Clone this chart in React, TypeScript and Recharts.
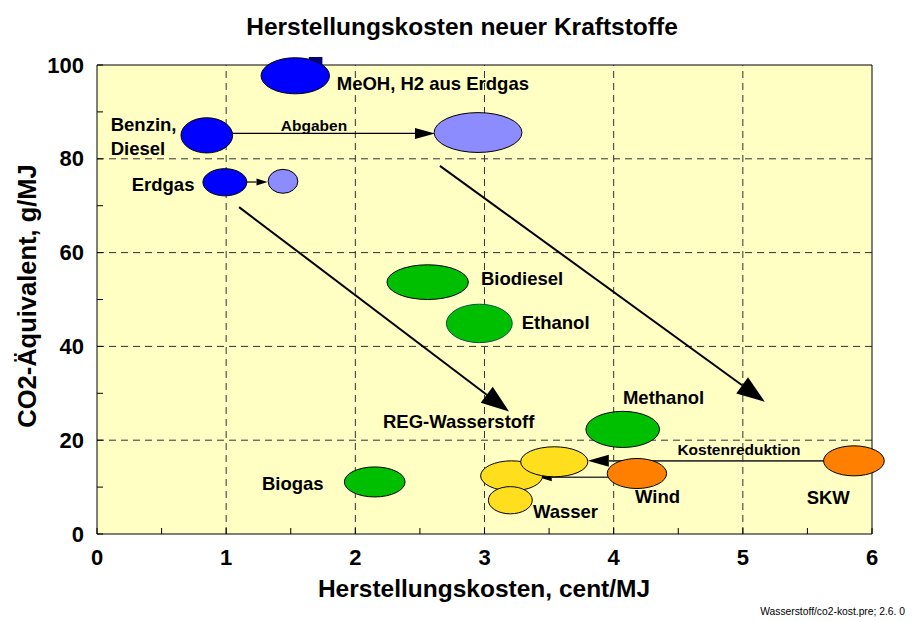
import {
  ScatterChart,
  Scatter,
  XAxis,
  YAxis,
  CartesianGrid,
  ReferenceLine,
  ReferenceArea,
} from 'recharts';

// --- data (cent/MJ, g CO2-Äq./MJ); w/h = spread of each range ---
const xTicks = [0, 0.5, 1, 1.5, 2, 2.5, 3, 3.5, 4, 4.5, 5, 5.5, 6];
const xLabels = [0, 1, 2, 3, 4, 5, 6];
const yTicks = [0, 10, 20, 30, 40, 50, 60, 70, 80, 90, 100];
const yLabels = [0, 20, 40, 60, 80, 100];
const gridX = [1, 2, 3, 4, 5];
const gridY = [20, 40, 60, 80];

const fossil = [
  { name: 'MeOH, H2 aus Erdgas', x: 1.535, y: 97.7, w: 0.53, h: 7.7 },
  { name: 'Benzin, Diesel', x: 0.85, y: 85, w: 0.4, h: 7.5 },
  { name: 'Erdgas', x: 0.99, y: 75, w: 0.34, h: 5.8 },
];
const withTax = [
  { name: 'Benzin, Diesel + Abgaben', x: 2.95, y: 85.6, w: 0.68, h: 8.5 },
  { name: 'Erdgas + Abgaben', x: 1.44, y: 75.2, w: 0.23, h: 5.1 },
];
const biofuels = [
  { name: 'Biodiesel', x: 2.56, y: 53.7, w: 0.63, h: 7.4 },
  { name: 'Ethanol', x: 2.96, y: 44.9, w: 0.51, h: 8.2 },
  { name: 'Methanol', x: 4.07, y: 22.3, w: 0.57, h: 7.7 },
  { name: 'Biogas', x: 2.15, y: 11.1, w: 0.47, h: 6.4 },
];
const regHydrogen = [
  { name: 'Wasser', x: 3.21, y: 12.4, w: 0.48, h: 6.4 },
  { name: 'Wasser (klein)', x: 3.2, y: 7.2, w: 0.34, h: 5.8 },
  { name: 'Wind/SKW reduziert', x: 3.54, y: 15.4, w: 0.52, h: 6.4 },
];
const windSolar = [
  { name: 'Wind', x: 4.18, y: 12.9, w: 0.46, h: 6.4 },
  { name: 'SKW', x: 5.86, y: 15.6, w: 0.47, h: 6.4 },
];

const arrows = [
  { from: [1.05, 85.4], to: [2.617, 85.4], kind: 'thin' },
  { from: [1.159, 75.05], to: [1.32, 75.05], kind: 'tiny' },
  { from: [1.1, 69.7], to: [3.19, 26.1], kind: 'big' },
  { from: [2.655, 78.5], to: [5.17, 28.2], kind: 'big' },
  { from: [5.63, 15.6], to: [3.8, 15.6], kind: 'gray' },
  { from: [3.995, 12.1], to: [3.42, 12.1], kind: 'graySmall' },
];

const labels = [
  { text: 'MeOH, H2 aus Erdgas', x: 1.856, y: 96.1, kind: 'main' },
  { text: 'Benzin,', x: 0.106, y: 87.4, kind: 'main' },
  { text: 'Diesel', x: 0.106, y: 82.1, kind: 'main' },
  { text: 'Erdgas', x: 0.269, y: 74.6, kind: 'main' },
  { text: 'Abgaben', x: 1.68, y: 87.2, kind: 'note' },
  { text: 'Biodiesel', x: 2.973, y: 54.4, kind: 'main' },
  { text: 'Ethanol', x: 3.288, y: 45.05, kind: 'main' },
  { text: 'Methanol', x: 4.072, y: 29.2, kind: 'main' },
  { text: 'REG-Wasserstoff', x: 2.214, y: 23.9, kind: 'main' },
  { text: 'Biogas', x: 1.277, y: 10.7, kind: 'main' },
  { text: 'Kostenreduktion', x: 4.97, y: 18.06, kind: 'note' },
  { text: 'Wind', x: 4.165, y: 8.1, kind: 'main' },
  { text: 'Wasser', x: 3.375, y: 4.75, kind: 'main' },
  { text: 'SKW', x: 5.494, y: 7.7, kind: 'main' },
];

// --- layout ---
const W = 900;
const H = 606;
const margin = { top: 57, right: 36, bottom: 40, left: 29 };
const Y_AXIS_W = 60;
const X_AXIS_H = 40;
const PLOT_W = W - margin.left - margin.right - Y_AXIS_W;
const PLOT_H = H - margin.top - margin.bottom - X_AXIS_H;
const PX_X = PLOT_W / 6;
const PX_Y = PLOT_H / 100;

const FONT = 'Arial, "Liberation Sans", Helvetica, sans-serif';
const BG = '#FFFFC4';

const headStyles: any = {
  big: { len: 28, half: 10, width: 2, color: '#000' },
  thin: { len: 20, half: 5.5, width: 1.2, color: '#000' },
  tiny: { len: 11, half: 3.5, width: 1.2, color: '#000' },
  gray: { len: 21, half: 6, width: 1.6, color: '#3a3a3a' },
  graySmall: { len: 13, half: 4, width: 1.6, color: '#3a3a3a' },
};

const outline: any = { Ethanol: '#0b4f4f' };

const ellipseShape = (fill: string) => (p: any) => (
  <ellipse
    cx={p.cx}
    cy={p.cy}
    rx={(p.payload.w * PX_X) / 2}
    ry={(p.payload.h * PX_Y) / 2}
    fill={fill}
    stroke={outline[p.payload.name] || '#000'}
    strokeWidth={1}
  />
);

const arrowShape = (kind: string) => (p: any) => {
  const s = headStyles[kind];
  const { x1, y1, x2, y2 } = p;
  const dx = x2 - x1;
  const dy = y2 - y1;
  const L = Math.hypot(dx, dy) || 1;
  const ux = dx / L;
  const uy = dy / L;
  const bx = x2 - ux * s.len;
  const by = y2 - uy * s.len;
  const nx = -uy * s.half;
  const ny = ux * s.half;
  return (
    <g>
      <line x1={x1} y1={y1} x2={bx} y2={by} stroke={s.color} strokeWidth={s.width} />
      <polygon
        points={`${x2},${y2} ${bx + nx},${by + ny} ${bx - nx},${by - ny}`}
        fill="#000"
      />
    </g>
  );
};

const labelShape = (p: any) => {
  const note = p.payload.kind === 'note';
  return (
    <text
      x={p.cx}
      y={p.cy}
      textAnchor={note ? 'middle' : 'start'}
      dominantBaseline="central"
      fontFamily={FONT}
      fontWeight="bold"
      fontSize={note ? 15.5 : 18.5}
      fill="#000"
    >
      {p.payload.text}
    </text>
  );
};

const YTick = ({ x, y, payload }: any) => {
  const v = payload.value;
  return (
    <g>
      <line x1={x} x2={x + 6} y1={y} y2={y} stroke="#000" />
      {yLabels.includes(v) && (
        <text
          x={x - 13}
          y={y}
          textAnchor="end"
          dominantBaseline="central"
          fontFamily={FONT}
          fontWeight="bold"
          fontSize={22}
          fill="#000"
        >
          {v}
        </text>
      )}
    </g>
  );
};

const XTick = ({ x, y, payload }: any) => {
  const v = payload.value;
  return (
    <g>
      <line x1={x} x2={x} y1={y} y2={y - 6} stroke="#000" />
      {xLabels.includes(v) && (
        <text
          x={x}
          y={y + 23}
          textAnchor="middle"
          dominantBaseline="central"
          fontFamily={FONT}
          fontWeight="bold"
          fontSize={22}
          fill="#000"
        >
          {v}
        </text>
      )}
    </g>
  );
};

const abs = (x: number, y: number, extra: any = {}): any => ({
  position: 'absolute',
  left: x,
  top: y,
  transform: 'translate(-50%, -50%)',
  whiteSpace: 'nowrap',
  lineHeight: 1,
  fontFamily: FONT,
  fontWeight: 'bold',
  color: '#000',
  ...extra,
});

export default function App() {
  return (
    <div style={{ position: 'relative', width: 906, height: 614 }}>
      <ScatterChart width={W} height={H} margin={margin}>
        <CartesianGrid fill={BG} horizontal={false} vertical={false} />
        <XAxis
          type="number"
          dataKey="x"
          domain={[0, 6]}
          ticks={xTicks}
          interval={0}
          height={X_AXIS_H}
          tickSize={0}
          tickMargin={0}
          tickLine={false}
          axisLine={{ stroke: '#000' }}
          tick={<XTick />}
        />
        <YAxis
          type="number"
          dataKey="y"
          domain={[0, 100]}
          ticks={yTicks}
          interval={0}
          width={Y_AXIS_W}
          tickSize={0}
          tickMargin={0}
          tickLine={false}
          axisLine={{ stroke: '#000' }}
          tick={<YTick />}
        />
        {gridX.map((v) => (
          <ReferenceLine key={'gx' + v} x={v} stroke="#333" strokeDasharray="7 5" />
        ))}
        {gridY.map((v) => (
          <ReferenceLine key={'gy' + v} y={v} stroke="#333" strokeDasharray="7 5" />
        ))}
        <ReferenceLine y={100} stroke="#000" />
        <ReferenceLine x={6} stroke="#000" />
        <ReferenceArea
          x1={1.64}
          x2={1.745}
          y1={96}
          y2={101.7}
          ifOverflow="visible"
          fill="#000080"
          fillOpacity={1}
          stroke="none"
        />
        <Scatter data={fossil} shape={ellipseShape('#0000FF')} isAnimationActive={false} />
        <Scatter data={withTax} shape={ellipseShape('#8C8CFF')} isAnimationActive={false} />
        <Scatter data={biofuels} shape={ellipseShape('#00BF00')} isAnimationActive={false} />
        <Scatter data={regHydrogen} shape={ellipseShape('#FFDE1E')} isAnimationActive={false} />
        <Scatter data={windSolar} shape={ellipseShape('#FF8000')} isAnimationActive={false} />
        {arrows.map((a, i) => (
          <ReferenceLine
            key={'a' + i}
            segment={[
              { x: a.from[0], y: a.from[1] },
              { x: a.to[0], y: a.to[1] },
            ]}
            shape={arrowShape(a.kind)}
          />
        ))}
        <Scatter data={labels} shape={labelShape} isAnimationActive={false} />
      </ScatterChart>
      <div style={abs(454, 19, { fontSize: 24.5 })}>Herstellungskosten neuer Kraftstoffe</div>
      <div style={abs(476, 581, { fontSize: 24.5 })}>Herstellungskosten, cent/MJ</div>
      <div style={abs(20, 288, { fontSize: 25.5, transform: 'translate(-50%, -50%) rotate(-90deg)' })}>
        CO2-Äquivalent, g/MJ
      </div>
      <div
        style={{
          position: 'absolute',
          right: 9,
          top: 598,
          fontFamily: '"Liberation Sans Narrow", Arial, sans-serif',
          fontSize: 10.3,
          whiteSpace: 'nowrap',
          color: '#000',
        }}
      >
        Wasserstoff/co2-kost.pre; 2.6. 0
      </div>
    </div>
  );
}
